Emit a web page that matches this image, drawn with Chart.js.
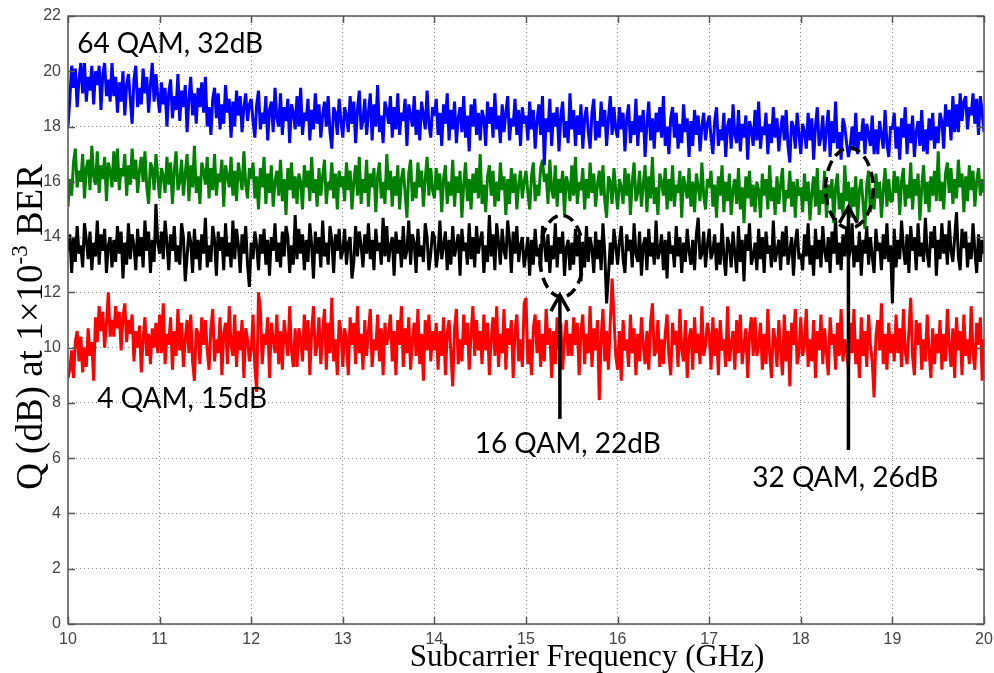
<!DOCTYPE html>
<html>
<head>
<meta charset="utf-8">
<script src="https://cdn.jsdelivr.net/npm/chart.js@4.4.1/dist/chart.umd.min.js"></script>
<style>
  html, body { margin: 0; padding: 0; background: #fff; }
  #wrap { width: 994px; height: 673px; }
</style>
</head>
<body>
<div id="wrap"><canvas id="qChart" width="994" height="673"></canvas></div>
<script>
// ── Measured Q per subcarrier ──────────────────────────────────────────────
// Sample grid: 10–20 GHz, one subcarrier every 20 MHz (501 points)
const F_START = 10;
const F_STEP  = 0.02;
const N_SUB   = 501;
const FREQ = Array.from({ length: N_SUB }, (_, i) => +(F_START + i * F_STEP).toFixed(2));

// two lines per GHz (25 subcarriers each), last entry is the 20 GHz point
const Q_64QAM = [
  18.0, 19.0, 20.2, 19.4, 20.1, 18.7, 19.7, 20.3, 19.2, 20.3, 18.9, 19.8, 19.3, 20.2, 18.8, 20.0, 19.5, 20.2, 18.6, 19.9, 20.3, 19.1, 19.7, 18.9, 20.3,
  19.1, 19.8, 18.5, 19.6, 18.9, 20.0, 18.4, 19.5, 19.9, 19.0, 18.1, 19.7, 20.2, 18.7, 19.4, 18.8, 20.1, 19.2, 19.8, 18.5, 19.5, 20.3, 18.9, 19.9, 19.1,
  18.5, 19.6, 18.8, 19.4, 18.0, 19.2, 19.7, 18.3, 19.1, 18.6, 19.9, 18.2, 19.3, 18.7, 19.5, 17.8, 19.0, 19.8, 18.4, 19.2, 18.1, 19.4, 18.7, 19.6, 18.5,
  19.8, 18.0, 18.7, 17.7, 19.0, 19.4, 18.3, 19.2, 17.9, 18.8, 18.1, 19.5, 18.5, 19.0, 17.6, 18.9, 18.0, 19.3, 18.4, 19.1, 17.8, 18.7, 19.2, 18.2, 18.8,
  19.0, 18.2, 17.6, 18.8, 19.3, 17.9, 18.5, 18.1, 19.1, 17.5, 18.6, 18.9, 17.8, 19.4, 18.3, 18.0, 19.2, 17.7, 18.7, 18.2, 19.0, 17.4, 18.8, 18.5, 17.9,
  19.1, 18.0, 19.4, 17.7, 18.5, 18.2, 19.0, 17.5, 18.6, 17.9, 19.2, 18.1, 18.8, 17.6, 18.4, 18.9, 18.0, 19.1, 17.8, 17.2, 18.7, 18.5, 17.7, 19.0, 18.2,
  17.6, 18.7, 18.4, 17.8, 19.1, 18.1, 18.9, 17.4, 18.6, 19.3, 17.9, 18.2, 19.0, 17.7, 18.5, 19.2, 17.5, 18.8, 18.0, 19.5, 17.8, 18.4, 17.4, 18.9, 18.6,
  18.1, 19.1, 17.6, 18.7, 17.9, 19.2, 17.7, 18.5, 18.2, 19.0, 17.3, 18.8, 18.4, 18.0, 19.1, 17.7, 18.6, 17.5, 18.9, 18.4, 17.9, 19.3, 18.1, 17.6, 18.7,
  18.4, 19.0, 17.7, 18.5, 17.3, 18.8, 18.1, 19.2, 17.5, 18.6, 17.9, 18.9, 17.4, 18.3, 18.7, 17.8, 19.1, 17.6, 18.4, 17.1, 18.8, 18.0, 19.0, 17.7, 18.5,
  17.5, 18.6, 18.3, 17.3, 18.9, 18.1, 18.7, 17.6, 19.2, 17.9, 18.4, 17.4, 18.8, 17.8, 18.5, 19.1, 17.5, 18.3, 18.0, 19.0, 17.7, 18.6, 17.3, 18.7, 18.1,
  18.4, 17.5, 18.9, 17.9, 18.6, 17.2, 18.2, 18.8, 17.7, 19.1, 16.6, 18.3, 17.8, 19.0, 17.3, 18.5, 18.0, 18.7, 17.1, 18.4, 18.9, 17.6, 18.2, 17.4, 19.2,
  17.9, 18.6, 17.3, 18.4, 17.7, 18.8, 17.2, 18.3, 18.7, 17.8, 17.2, 18.5, 19.0, 17.5, 18.2, 17.6, 18.9, 18.0, 18.6, 17.3, 18.3, 19.1, 17.7, 18.7, 17.9,
  17.6, 18.7, 17.9, 18.5, 17.1, 18.3, 18.8, 17.4, 18.2, 17.7, 19.0, 17.3, 18.4, 17.8, 18.6, 16.9, 18.1, 18.9, 17.5, 18.3, 17.2, 18.5, 17.8, 18.7, 17.6,
  19.1, 17.3, 18.0, 17.0, 18.3, 18.7, 17.6, 18.5, 17.2, 18.1, 17.4, 18.8, 17.8, 18.3, 16.9, 18.2, 17.3, 18.6, 17.7, 18.4, 17.1, 18.0, 18.5, 17.5, 18.1,
  18.4, 17.6, 17.0, 18.2, 18.7, 17.3, 17.9, 17.5, 18.5, 16.9, 18.0, 18.3, 17.2, 18.8, 17.7, 17.4, 18.6, 17.1, 18.1, 17.6, 18.4, 16.8, 18.2, 17.9, 17.3,
  18.6, 17.5, 18.9, 17.2, 18.0, 17.7, 18.5, 17.0, 18.1, 17.4, 18.7, 17.6, 18.3, 17.1, 17.9, 18.4, 17.5, 18.6, 17.3, 16.7, 18.2, 18.0, 17.2, 18.5, 17.7,
  17.0, 18.1, 17.8, 17.2, 18.5, 17.5, 18.3, 16.8, 18.0, 18.7, 17.3, 17.6, 18.4, 17.1, 17.9, 18.6, 16.9, 18.2, 17.4, 18.9, 17.2, 17.8, 16.8, 18.3, 18.0,
  17.4, 16.9, 17.3, 18.0, 17.2, 18.5, 17.0, 17.8, 17.5, 18.3, 17.0, 18.1, 17.7, 17.3, 18.4, 17.0, 17.9, 17.0, 18.2, 17.7, 17.2, 18.6, 17.4, 16.9, 18.0,
  17.9, 18.5, 17.2, 18.0, 16.8, 18.3, 17.6, 18.7, 17.0, 18.1, 17.4, 18.4, 16.9, 17.8, 18.2, 17.3, 18.6, 17.1, 17.9, 17.0, 18.3, 17.5, 18.5, 17.2, 18.0,
  17.4, 18.5, 18.2, 17.2, 18.8, 18.0, 18.6, 17.5, 19.1, 17.8, 18.8, 17.8, 19.2, 18.2, 18.9, 19.1, 17.9, 18.7, 18.4, 19.2, 18.1, 19.0, 17.7, 19.1, 18.5,
  17.8
];

const Q_32QAM = [
  15.1, 16.1, 15.5, 16.7, 17.2, 15.8, 16.4, 16.0, 17.0, 15.4, 16.5, 16.8, 15.7, 17.3, 16.2, 15.9, 17.1, 15.6, 16.6, 16.1, 16.9, 15.3, 16.7, 16.4, 15.8,
  17.1, 16.0, 17.2, 15.7, 16.5, 16.2, 17.0, 15.5, 16.6, 15.9, 17.2, 16.1, 16.8, 15.6, 16.4, 16.9, 16.0, 17.1, 15.8, 15.2, 16.7, 16.5, 15.7, 17.0, 16.2,
  15.4, 16.5, 16.2, 15.6, 16.9, 15.9, 16.7, 15.2, 16.4, 17.1, 15.7, 16.0, 16.8, 15.5, 16.3, 17.0, 15.3, 16.6, 15.8, 17.3, 15.6, 16.2, 15.2, 16.7, 16.4,
  15.9, 16.9, 15.4, 16.5, 15.7, 17.0, 15.5, 16.3, 16.0, 16.8, 15.1, 16.6, 16.2, 15.8, 16.9, 15.5, 16.4, 15.3, 16.7, 16.2, 15.7, 17.1, 15.9, 15.4, 16.5,
  16.1, 16.7, 15.4, 16.2, 15.0, 16.5, 15.8, 16.9, 15.2, 16.3, 15.6, 16.6, 15.1, 16.0, 16.4, 15.5, 16.8, 15.3, 16.1, 14.8, 16.5, 15.7, 16.7, 15.4, 16.2,
  15.2, 16.3, 16.0, 15.0, 16.6, 15.8, 16.4, 15.3, 16.9, 15.6, 16.1, 15.1, 16.5, 15.5, 16.2, 16.8, 15.2, 16.0, 15.7, 16.7, 15.4, 16.3, 15.0, 16.4, 15.8,
  16.2, 15.3, 16.7, 15.7, 16.4, 15.0, 16.0, 16.6, 15.5, 16.9, 15.2, 16.1, 15.6, 16.8, 15.1, 16.3, 15.8, 16.5, 14.9, 16.2, 16.7, 15.4, 16.0, 15.2, 17.0,
  15.7, 16.4, 15.1, 16.2, 15.5, 16.6, 15.0, 16.1, 16.5, 15.6, 14.7, 16.3, 16.8, 15.3, 16.0, 15.4, 16.7, 15.8, 16.4, 15.1, 16.1, 16.9, 15.5, 16.5, 15.7,
  15.4, 16.5, 15.7, 16.3, 14.9, 16.1, 16.6, 15.2, 16.0, 15.5, 16.8, 15.1, 16.2, 15.6, 16.4, 14.7, 15.9, 16.7, 15.3, 16.1, 15.0, 16.3, 15.6, 16.5, 15.4,
  17.0, 15.2, 15.9, 14.9, 16.2, 16.6, 15.5, 16.4, 15.1, 16.0, 15.3, 16.7, 15.7, 16.2, 14.8, 16.1, 15.2, 16.5, 15.6, 16.3, 15.0, 15.9, 16.4, 15.4, 16.0,
  16.4, 15.6, 15.0, 16.2, 16.7, 15.3, 15.9, 15.5, 16.5, 16.8, 16.0, 16.3, 15.2, 16.8, 15.7, 15.4, 16.6, 15.1, 16.1, 15.6, 16.4, 14.8, 16.2, 15.9, 15.3,
  16.6, 15.5, 16.9, 15.2, 16.0, 15.7, 16.5, 15.0, 16.1, 15.4, 16.7, 15.6, 16.3, 15.1, 15.9, 16.4, 15.5, 16.6, 15.3, 14.7, 16.2, 16.0, 15.2, 16.5, 15.7,
  15.0, 16.1, 15.8, 15.2, 16.5, 15.5, 16.3, 14.8, 16.0, 16.7, 15.3, 15.6, 16.4, 15.1, 15.9, 16.6, 14.9, 16.2, 15.4, 16.9, 15.2, 15.8, 14.8, 16.3, 16.0,
  15.5, 16.5, 15.0, 16.1, 15.3, 16.6, 15.1, 15.9, 15.6, 16.4, 14.7, 16.2, 15.8, 15.4, 16.5, 15.1, 16.0, 14.9, 16.3, 15.8, 15.3, 16.7, 15.5, 15.0, 16.1,
  15.8, 16.4, 15.1, 15.9, 14.7, 16.2, 15.5, 16.6, 14.9, 16.0, 15.3, 16.3, 14.8, 15.7, 16.1, 15.2, 16.5, 15.0, 15.8, 14.5, 16.2, 15.4, 16.4, 15.1, 15.9,
  14.9, 16.0, 15.7, 14.7, 16.3, 15.5, 16.1, 15.0, 16.6, 15.3, 15.8, 14.8, 16.2, 15.2, 15.9, 16.5, 14.9, 15.7, 15.4, 16.4, 15.1, 16.0, 14.7, 16.1, 15.5,
  15.8, 14.9, 16.3, 15.3, 16.0, 14.6, 15.6, 16.2, 15.1, 16.5, 14.8, 15.7, 15.2, 16.4, 14.7, 15.9, 15.4, 16.1, 14.5, 15.8, 16.3, 15.0, 15.6, 14.8, 16.6,
  15.3, 16.0, 14.7, 15.8, 15.1, 16.2, 14.6, 15.7, 16.1, 15.2, 14.3, 15.9, 16.4, 14.9, 15.6, 15.0, 16.3, 15.4, 16.0, 14.7, 15.7, 16.5, 15.1, 16.1, 15.3,
  15.3, 16.4, 15.6, 16.2, 14.8, 16.0, 16.5, 15.1, 15.9, 15.4, 16.7, 15.0, 16.1, 15.5, 16.3, 14.6, 15.8, 16.6, 15.2, 16.0, 14.9, 16.2, 15.5, 16.4, 15.3,
  17.1, 15.3, 16.0, 15.0, 16.3, 16.7, 15.6, 16.5, 15.2, 16.1, 15.4, 16.8, 15.8, 16.3, 14.9, 16.2, 15.3, 16.6, 15.7, 16.4, 15.1, 16.0, 16.5, 15.5, 16.1,
  15.6
];

const Q_16QAM = [
  13.5, 14.1, 12.7, 14.0, 13.1, 14.4, 13.4, 13.7, 12.9, 14.5, 13.9, 13.2, 14.2, 12.8, 13.8, 13.3, 14.6, 13.0, 14.1, 13.5, 14.3, 12.7, 13.7, 14.0, 12.9,
  13.9, 13.1, 14.4, 13.4, 14.2, 12.5, 13.8, 13.0, 14.5, 13.2, 14.1, 13.7, 12.8, 14.3, 13.3, 14.0, 12.9, 14.6, 13.5, 14.2, 12.7, 13.9, 13.1, 15.2, 13.8,
  13.4, 14.2, 13.2, 14.6, 13.8, 12.8, 14.1, 13.5, 14.4, 13.1, 13.7, 13.0, 14.5, 14.0, 12.4, 13.3, 14.2, 13.8, 12.7, 14.3, 13.2, 13.9, 12.8, 14.1, 13.4,
  14.7, 12.9, 13.7, 13.1, 14.4, 13.9, 12.6, 14.2, 13.5, 14.0, 12.8, 14.5, 13.3, 13.8, 12.9, 14.6, 13.2, 14.3, 13.7, 12.7, 14.1, 13.4, 14.4, 13.0, 12.2,
  13.8, 13.2, 14.2, 13.7, 12.8, 14.1, 13.4, 14.3, 13.0, 13.9, 12.6, 14.0, 13.5, 14.5, 13.1, 13.8, 12.9, 14.2, 13.3, 14.4, 14.0, 12.7, 13.7, 13.0, 14.8,
  13.2, 14.3, 13.4, 14.1, 12.8, 13.9, 13.1, 14.5, 13.7, 12.5, 14.2, 13.4, 14.0, 12.9, 14.6, 13.3, 13.8, 13.0, 14.4, 13.9, 12.7, 14.1, 13.5, 14.3, 13.2,
  13.5, 14.3, 13.0, 13.8, 14.0, 12.5, 13.1, 14.4, 13.3, 14.2, 13.7, 12.9, 14.1, 13.4, 14.5, 13.2, 13.9, 12.8, 14.3, 13.5, 13.8, 13.0, 14.7, 13.3, 14.4,
  13.1, 13.7, 14.0, 12.6, 14.2, 13.4, 13.9, 12.9, 14.4, 13.2, 13.5, 14.6, 13.0, 14.1, 13.8, 12.7, 14.3, 13.3, 13.7, 13.1, 14.5, 14.0, 12.8, 13.4, 14.2,
  14.0, 12.9, 13.4, 14.6, 13.2, 13.7, 14.2, 12.8, 13.9, 13.0, 14.4, 13.3, 13.7, 14.1, 12.6, 14.3, 13.5, 13.8, 13.0, 14.5, 13.2, 14.0, 12.9, 14.4, 13.4,
  13.9, 14.2, 12.7, 13.7, 13.1, 14.8, 13.3, 14.1, 12.8, 14.5, 13.8, 13.0, 14.3, 13.5, 13.2, 14.6, 13.9, 12.7, 14.2, 13.4, 14.4, 13.1, 13.7, 14.0, 12.9,
  13.4, 14.0, 12.6, 13.9, 13.0, 14.3, 13.3, 13.6, 12.8, 14.4, 13.8, 13.1, 14.1, 12.7, 13.7, 13.2, 14.5, 12.9, 14.0, 13.4, 14.2, 12.6, 13.6, 13.9, 12.8,
  13.8, 13.0, 14.3, 13.3, 14.1, 12.4, 13.7, 12.9, 14.4, 13.1, 14.0, 13.6, 12.7, 14.2, 13.2, 13.9, 12.8, 14.5, 13.4, 11.6, 12.6, 13.8, 13.0, 14.3, 13.7,
  13.0, 13.8, 14.4, 13.2, 12.7, 14.1, 13.5, 13.9, 12.9, 14.5, 13.4, 13.1, 14.2, 12.6, 13.7, 14.0, 12.8, 14.3, 13.3, 13.8, 13.0, 14.6, 13.2, 13.5, 14.1,
  12.8, 13.9, 12.5, 14.2, 13.4, 13.7, 12.9, 14.4, 13.3, 14.0, 12.7, 13.8, 13.1, 14.3, 13.5, 13.0, 13.9, 12.8, 14.1, 14.7, 13.2, 13.4, 14.2, 12.9, 13.7,
  14.3, 13.2, 13.5, 14.1, 12.8, 13.8, 13.0, 14.5, 13.3, 12.6, 14.0, 13.7, 12.9, 14.2, 13.4, 12.7, 14.4, 13.1, 13.9, 12.4, 14.1, 13.5, 14.5, 13.0, 13.3,
  13.8, 12.8, 14.3, 13.2, 14.0, 12.7, 14.2, 13.4, 13.7, 12.9, 14.6, 13.1, 13.5, 13.9, 12.8, 14.2, 13.3, 14.4, 13.0, 13.5, 14.0, 12.6, 13.8, 14.3, 13.2,
  13.4, 12.8, 14.1, 13.3, 14.5, 13.0, 13.7, 12.6, 14.3, 13.2, 13.9, 12.9, 14.4, 13.5, 13.1, 14.0, 12.7, 14.2, 13.4, 14.7, 13.0, 13.8, 12.8, 14.1, 13.3,
  14.3, 13.2, 13.5, 14.5, 12.9, 13.7, 13.1, 14.2, 12.6, 13.9, 13.4, 14.4, 13.0, 14.0, 13.3, 12.7, 14.3, 13.5, 13.8, 12.8, 14.1, 13.2, 14.5, 13.1, 13.7,
  11.6, 14.3, 12.9, 13.9, 13.2, 14.6, 13.6, 13.0, 14.1, 12.7, 14.4, 13.5, 14.0, 12.8, 14.5, 13.3, 13.8, 13.1, 14.7, 13.4, 12.9, 14.2, 13.6, 14.4, 12.6,
  13.9, 13.2, 14.5, 13.4, 14.1, 13.0, 14.6, 13.5, 13.1, 14.0, 14.9, 13.3, 12.8, 14.3, 13.6, 14.2, 12.9, 13.8, 13.2, 14.5, 13.5, 12.7, 14.1, 13.1, 13.9,
  13.4
];

const Q_4QAM = [
  8.9, 9.2, 9.9, 8.9, 10.2, 10.6, 9.5, 10.4, 9.1, 10.0, 9.3, 10.7, 9.7, 10.2, 8.8, 11.1, 10.2, 11.5, 10.6, 11.3, 10.0, 10.9, 12.0, 10.4, 11.0,
  10.4, 11.5, 10.7, 11.3, 9.9, 11.1, 11.6, 10.2, 11.0, 10.5, 11.2, 9.5, 10.6, 10.0, 10.8, 9.1, 10.3, 11.1, 9.7, 10.5, 9.4, 10.7, 10.0, 10.9, 9.8,
  11.2, 9.8, 11.6, 9.4, 10.5, 10.1, 11.1, 9.2, 10.6, 9.7, 11.4, 9.9, 10.9, 9.3, 10.3, 11.0, 9.8, 11.2, 9.5, 8.8, 10.7, 10.5, 9.4, 11.1, 10.1,
  11.0, 9.9, 9.2, 10.7, 11.4, 9.5, 10.3, 9.8, 11.1, 9.0, 10.5, 10.9, 9.4, 11.5, 10.1, 9.7, 11.2, 9.3, 10.6, 9.9, 11.0, 8.9, 10.7, 10.3, 9.5,
  9.9, 11.2, 9.3, 8.4, 12.0, 11.4, 9.4, 10.5, 10.1, 11.1, 8.9, 10.9, 10.3, 9.8, 11.2, 9.4, 10.6, 9.2, 11.0, 10.3, 9.7, 11.5, 9.9, 9.3, 10.7,
  9.3, 10.7, 10.3, 9.5, 11.2, 9.9, 11.0, 9.0, 10.6, 11.5, 9.7, 10.1, 11.1, 9.4, 10.5, 11.4, 9.2, 10.9, 9.8, 11.8, 9.5, 10.3, 9.0, 11.0, 10.6,
  9.3, 10.7, 10.3, 9.0, 11.1, 10.1, 10.9, 9.4, 11.5, 9.8, 10.5, 9.2, 11.0, 9.7, 10.6, 11.4, 9.3, 10.3, 9.9, 11.2, 9.5, 10.7, 9.0, 10.9, 10.1,
  10.5, 11.2, 9.5, 10.6, 9.0, 11.0, 10.1, 11.5, 9.3, 10.7, 9.8, 11.1, 9.2, 10.3, 10.9, 9.7, 11.4, 9.4, 10.5, 8.8, 11.0, 9.9, 11.2, 9.5, 10.6,
  9.9, 10.9, 9.2, 10.6, 9.7, 11.1, 9.0, 10.5, 11.0, 9.8, 8.6, 10.7, 11.4, 9.4, 10.3, 9.5, 11.2, 10.1, 10.9, 9.2, 10.5, 11.5, 9.7, 11.0, 9.9,
  10.6, 9.4, 11.2, 9.9, 10.9, 9.0, 10.3, 11.1, 9.7, 11.5, 9.3, 10.5, 9.8, 11.4, 9.2, 10.7, 10.1, 11.0, 8.9, 10.6, 11.2, 9.5, 10.3, 9.3, 11.6,
  11.8, 9.4, 10.3, 9.0, 10.7, 11.2, 9.8, 11.0, 9.3, 10.5, 9.5, 11.4, 10.1, 10.7, 8.9, 10.6, 9.4, 11.1, 9.9, 10.9, 9.2, 10.3, 11.0, 9.7, 10.5,
  9.7, 11.1, 10.1, 10.9, 9.0, 10.6, 11.2, 9.4, 10.5, 9.8, 11.5, 9.3, 10.7, 9.9, 11.0, 8.1, 10.3, 11.4, 9.5, 10.6, 9.2, 10.9, 12.5, 11.1, 9.7,
  9.2, 10.6, 8.8, 11.0, 9.9, 10.3, 9.3, 11.2, 9.8, 10.7, 9.0, 10.5, 9.5, 11.1, 10.1, 9.4, 10.6, 9.2, 10.9, 11.6, 9.7, 9.9, 11.0, 9.3, 10.3,
  9.4, 10.5, 11.2, 9.7, 9.0, 10.9, 10.1, 10.6, 9.3, 11.4, 9.9, 9.5, 11.0, 8.9, 10.3, 10.7, 9.2, 11.1, 9.8, 10.5, 9.4, 11.5, 9.7, 10.1, 10.9,
  10.5, 9.2, 11.1, 9.7, 10.7, 9.0, 11.0, 9.9, 10.3, 9.3, 11.5, 9.5, 10.1, 10.6, 9.2, 11.0, 9.8, 11.2, 9.4, 10.1, 10.7, 8.9, 10.5, 11.1, 9.7,
  11.1, 9.7, 10.1, 10.9, 9.2, 10.5, 9.4, 11.4, 9.8, 8.9, 10.7, 10.3, 9.3, 11.0, 9.9, 9.0, 11.2, 9.5, 10.6, 8.6, 10.9, 10.1, 11.4, 9.4, 9.8,
  11.1, 9.7, 10.1, 11.4, 9.3, 10.3, 9.5, 11.0, 8.9, 10.6, 9.9, 11.2, 9.4, 10.7, 9.8, 9.0, 11.1, 10.1, 10.5, 9.2, 10.9, 9.7, 11.4, 9.5, 10.3,
  9.9, 9.2, 10.9, 9.8, 11.4, 9.4, 10.3, 8.9, 11.1, 9.7, 10.6, 9.3, 11.2, 10.1, 9.5, 8.2, 10.4, 11.0, 9.9, 11.6, 9.4, 10.5, 9.2, 10.9, 9.8,
  10.5, 9.5, 11.2, 9.8, 10.7, 9.3, 11.4, 9.9, 9.4, 10.6, 11.8, 9.7, 9.0, 11.0, 10.1, 10.9, 9.2, 10.3, 9.5, 11.2, 9.9, 8.9, 10.7, 9.4, 10.5,
  9.8, 11.0, 9.2, 10.5, 9.5, 11.4, 10.1, 9.3, 10.7, 8.9, 11.1, 9.9, 10.6, 9.0, 11.2, 9.7, 10.3, 9.4, 11.5, 9.8, 9.2, 10.9, 10.1, 11.1, 8.8,
  10.3
];

const X_TICKS = [10, 11, 12, 13, 14, 15, 16, 17, 18, 19, 20];
const Y_TICKS = [0, 2, 4, 6, 8, 10, 12, 14, 16, 18, 20, 22];

const SERIES = [
  { name: '64 QAM', values: Q_64QAM, color: '#0000ff' },
  { name: '32 QAM', values: Q_32QAM, color: '#008000' },
  { name: '16 QAM', values: Q_16QAM, color: '#000000' },
  { name: '4 QAM',  values: Q_4QAM,  color: '#ff0000' },
];

// ── Annotations (data coordinates) ─────────────────────────────────────────
const LABELS = [
  { text: '64 QAM, 32dB', x: 10.10, y: 20.66 },
  { text: '4 QAM, 15dB',  x: 10.32, y: 7.81 },
  { text: '16 QAM, 22dB', x: 14.44, y: 6.19 },
  { text: '32 QAM, 26dB', x: 17.47, y: 4.96 },
];
const ARROWS = [
  { x: 15.37, from: 7.42, to: 11.90 },
  { x: 18.52, from: 6.30, to: 15.09 },
];
const RINGS = [
  { x: 15.39, y: 13.31, rx: 0.24, ry: 1.48 },
  { x: 18.53, y: 15.77, rx: 0.26, ry: 1.45 },
];

const AXIS_GREY = '#555';
const TICK_FONT = { family: '"Liberation Sans", Arial, sans-serif', size: 16 };
const SERIF = '"Liberation Serif", "Times New Roman", serif';

// box, inward tick marks, call-outs and axis titles (Matlab look)
const figureDecor = {
  id: 'figureDecor',
  afterDatasetsDraw(chart) {
    const { ctx, chartArea: a, scales: { x, y } } = chart;
    ctx.save();

    // frame + inward ticks
    ctx.strokeStyle = AXIS_GREY;
    ctx.lineWidth = 1.5;
    ctx.strokeRect(a.left, a.top, a.right - a.left, a.bottom - a.top);
    ctx.beginPath();
    X_TICKS.forEach(v => {
      const px = Math.round(x.getPixelForValue(v)) + 0.5;
      ctx.moveTo(px, a.bottom); ctx.lineTo(px, a.bottom - 7);
      ctx.moveTo(px, a.top);    ctx.lineTo(px, a.top + 7);
    });
    Y_TICKS.forEach(v => {
      const py = Math.round(y.getPixelForValue(v)) + 0.5;
      ctx.moveTo(a.left, py);  ctx.lineTo(a.left + 7, py);
      ctx.moveTo(a.right, py); ctx.lineTo(a.right - 7, py);
    });
    ctx.stroke();

    // dashed rings
    ctx.strokeStyle = '#000';
    ctx.lineWidth = 3.5;
    ctx.setLineDash([11, 6]);
    RINGS.forEach(r => {
      const cx = x.getPixelForValue(r.x), cy = y.getPixelForValue(r.y);
      const rx = x.getPixelForValue(r.x + r.rx) - cx;
      const ry = cy - y.getPixelForValue(r.y + r.ry);
      ctx.beginPath();
      ctx.ellipse(cx, cy, rx, ry, 0, 0, Math.PI * 2);
      ctx.stroke();
    });
    ctx.setLineDash([]);

    // arrows
    ctx.lineWidth = 3.5;
    ctx.lineCap = 'butt';
    ARROWS.forEach(ar => {
      const px = x.getPixelForValue(ar.x);
      const y0 = y.getPixelForValue(ar.from), y1 = y.getPixelForValue(ar.to);
      ctx.beginPath();
      ctx.moveTo(px, y0); ctx.lineTo(px, y1 + 1);
      ctx.stroke();
      ctx.beginPath();
      ctx.moveTo(px - 9, y1 + 16); ctx.lineTo(px, y1); ctx.lineTo(px + 9, y1 + 16);
      ctx.stroke();
    });

    // call-out texts
    ctx.fillStyle = '#000';
    ctx.font = '28px Lato, "Open Sans", sans-serif';
    ctx.textAlign = 'left';
    ctx.textBaseline = 'alphabetic';
    LABELS.forEach(l => ctx.fillText(l.text, x.getPixelForValue(l.x), y.getPixelForValue(l.y)));

    // x title
    ctx.font = '31px ' + SERIF;
    ctx.textAlign = 'center';
    ctx.fillText('Subcarrier Frequency (GHz)', (a.left + a.right) / 2 + 61, a.bottom + 42);

    // y title with superscript exponent
    const parts = [
      { t: 'Q (dB) at 1×10', size: 37, dy: 0 },
      { t: '-3', size: 23, dy: -15 },
      { t: ' BER', size: 37, dy: 0 },
    ];
    let total = 0;
    parts.forEach(p => {
      ctx.font = p.size + 'px ' + SERIF;
      p.w = ctx.measureText(p.t).width;
      total += p.w;
    });
    ctx.translate(42, 327);
    ctx.rotate(-Math.PI / 2);
    ctx.textAlign = 'left';
    let cx = -total / 2;
    parts.forEach(p => {
      ctx.font = p.size + 'px ' + SERIF;
      ctx.fillText(p.t, cx, p.dy);
      cx += p.w;
    });
    ctx.restore();
  }
};

new Chart(document.getElementById('qChart'), {
  type: 'line',
  data: {
    datasets: SERIES.map(s => ({
      label: s.name,
      data: FREQ.map((f, i) => ({ x: f, y: s.values[i] })),
      borderColor: s.color,
      borderWidth: 3,
      borderJoinStyle: 'bevel',
      pointRadius: 0,
      tension: 0,
      fill: false,
    }))
  },
  options: {
    responsive: false,
    animation: false,
    devicePixelRatio: 1,
    layout: { padding: { top: 16, right: 10, left: 0, bottom: 0 } },
    plugins: { legend: { display: false }, tooltip: { enabled: false } },
    scales: {
      x: {
        type: 'linear',
        min: 10, max: 20,
        afterFit: s => { s.height = 49; s.paddingLeft = 0; s.paddingRight = 0; },
        afterBuildTicks: s => { s.ticks = X_TICKS.map(v => ({ value: v })); },
        ticks: { color: '#444', font: TICK_FONT, padding: 6, maxRotation: 0 },
        grid: { color: '#8a8a8a', lineWidth: 1, drawTicks: false },
        border: { display: false, dash: [1, 3] },
      },
      y: {
        min: 0, max: 22,
        afterFit: s => { s.width = 68; s.paddingTop = 0; s.paddingBottom = 0; },
        afterBuildTicks: s => { s.ticks = Y_TICKS.map(v => ({ value: v })); },
        ticks: { color: '#444', font: TICK_FONT, padding: 7 },
        grid: { color: '#8a8a8a', lineWidth: 1, drawTicks: false },
        border: { display: false, dash: [1, 3] },
      }
    }
  },
  plugins: [figureDecor]
});
</script>
</body>
</html>
